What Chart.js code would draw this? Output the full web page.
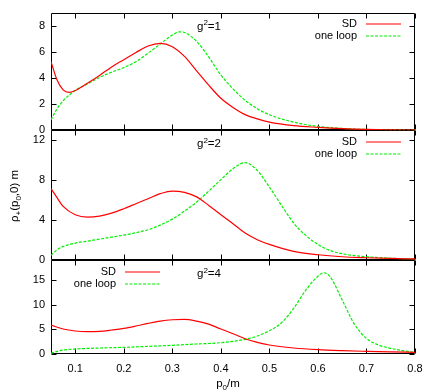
<!DOCTYPE html>
<html lang="en">
  <head>
    <meta charset="UTF-8" />
    <title>rho plus</title>
    <script src="https://cdn.jsdelivr.net/npm/chart.js"></script>
    <style>
      body { margin: 0; background: #fff; }
      canvas { display: block; }
    </style>
  </head>
  <body>
    <canvas id="grafico" width="436" height="391"></canvas>

    <script>
      // values, one panel per coupling g^2
      const couplings = [1, 2, 4];
      const xTicks = [0.1, 0.2, 0.3, 0.4, 0.5, 0.6, 0.7, 0.8];
      const yTicks1 = [0, 2, 4, 6, 8];
      const yTicks2 = [0, 4, 8, 12];
      const yTicks3 = [0, 5, 10, 15];
      const yMax = [9, 13, 19];

      const sdX1 = [0.05, 0.0625, 0.075, 0.0875, 0.1, 0.125, 0.15, 0.175, 0.2, 0.225, 0.25, 0.275, 0.3, 0.325, 0.35, 0.375, 0.4, 0.425, 0.45, 0.475, 0.5, 0.55, 0.6, 0.65, 0.7, 0.75, 0.8];
      const sdY1 = [5.25, 3.85, 3.09, 2.9, 3.05, 3.6, 4.2, 4.85, 5.4, 5.95, 6.45, 6.65, 6.39, 5.65, 4.55, 3.45, 2.45, 1.75, 1.2, 0.88, 0.63, 0.36, 0.23, 0.13, 0.07, 0.04, 0.02];
      const loopX1 = [0.05, 0.0625, 0.075, 0.1, 0.125, 0.15, 0.175, 0.2, 0.225, 0.25, 0.275, 0.3, 0.315, 0.325, 0.35, 0.375, 0.4, 0.425, 0.45, 0.475, 0.5, 0.55, 0.6, 0.65, 0.7, 0.75, 0.8];
      const loopY1 = [0.81, 1.65, 2.26, 3.05, 3.55, 4.05, 4.45, 4.8, 5.25, 5.9, 6.6, 7.28, 7.53, 7.48, 6.8, 5.6, 4.23, 3.17, 2.3, 1.65, 1.19, 0.63, 0.3, 0.15, 0.07, 0.04, 0.02];

      const sdX2 = [0.05, 0.0625, 0.075, 0.1, 0.125, 0.15, 0.175, 0.2, 0.225, 0.25, 0.275, 0.3, 0.325, 0.35, 0.375, 0.4, 0.425, 0.45, 0.475, 0.5, 0.55, 0.6, 0.65, 0.7, 0.75, 0.8];
      const sdY2 = [7.17, 6.27, 5.4, 4.57, 4.33, 4.43, 4.73, 5.17, 5.67, 6.17, 6.67, 6.93, 6.8, 6.35, 5.5, 4.57, 3.67, 2.73, 2.07, 1.6, 0.9, 0.57, 0.37, 0.27, 0.2, 0.15];
      const loopX2 = [0.05, 0.0625, 0.075, 0.1, 0.125, 0.15, 0.175, 0.2, 0.225, 0.25, 0.275, 0.3, 0.325, 0.35, 0.375, 0.4, 0.425, 0.45, 0.475, 0.5, 0.525, 0.55, 0.575, 0.6, 0.625, 0.65, 0.7, 0.75, 0.8];
      const loopY2 = [0.5, 1.07, 1.4, 1.73, 1.93, 2.13, 2.33, 2.53, 2.77, 3.07, 3.53, 4.13, 4.93, 5.83, 6.93, 8.07, 9.17, 9.77, 9.0, 7.33, 5.5, 3.73, 2.5, 1.6, 1.0, 0.67, 0.37, 0.22, 0.15];

      const sdX3 = [0.05, 0.075, 0.1, 0.125, 0.15, 0.175, 0.2, 0.225, 0.25, 0.275, 0.3, 0.325, 0.35, 0.375, 0.4, 0.425, 0.45, 0.475, 0.5, 0.55, 0.6, 0.65, 0.7, 0.75, 0.8];
      const sdY3 = [5.88, 5.07, 4.67, 4.53, 4.6, 4.87, 5.2, 5.68, 6.22, 6.69, 6.96, 7.03, 6.69, 6.08, 5.07, 4.12, 3.1, 2.37, 1.83, 1.22, 0.88, 0.68, 0.54, 0.42, 0.34];
      const loopX3 = [0.05, 0.0625, 0.075, 0.1, 0.15, 0.2, 0.25, 0.3, 0.35, 0.4, 0.45, 0.475, 0.5, 0.525, 0.55, 0.575, 0.6, 0.612, 0.625, 0.65, 0.675, 0.7, 0.725, 0.75, 0.775, 0.8];
      const loopY3 = [0.14, 0.54, 0.81, 1.01, 1.22, 1.35, 1.55, 1.76, 2.03, 2.3, 2.98, 3.65, 4.73, 6.35, 9.27, 12.98, 15.8, 16.5, 15.7, 10.95, 6.08, 3.18, 1.83, 1.15, 0.68, 0.34];

      const FONT = "'Liberation Sans', Arial, sans-serif";
      const RED = "#ff0000";
      const GREEN = "#00f000";

      function pontos(xs, ys) {
        return xs.map((x, i) => ({ x: x, y: ys[i] }));
      }

      function serie(label, xs, ys, eixo, cor, tracejado) {
        return {
          label: label,
          data: pontos(xs, ys),
          yAxisID: eixo,
          borderColor: cor,
          borderWidth: 1.2,
          borderDash: tracejado ? [3, 1.5] : [],
          pointRadius: 0,
          showLine: true,
          fill: false,
          cubicInterpolationMode: "monotone",
        };
      }

      const yIds = ["y1", "y2", "y3"];
      const yTicks = [yTicks1, yTicks2, yTicks3];
      const pesos = [118.3, 130.7, 94];
      // where the key sits in each panel (gnuplot puts the last one on the left)
      const legendaX = [357, 357, 116];

      function eixoY(i) {
        return {
          type: "linear",
          position: "left",
          stack: "paineis",
          stackWeight: pesos[i],
          weight: 3 - i,
          min: 0,
          max: yMax[i],
          afterBuildTicks: (s) => (s.ticks = yTicks[i].map((v) => ({ value: v }))),
          afterFit: (s) => (s.width = 51),
          grid: { display: false, drawTicks: false },
          border: { display: false },
          ticks: { padding: 6, color: "#000", font: { family: FONT, size: 11 } },
        };
      }

      // text with small raised / lowered pieces, e.g. [["g"], ["2", "sup"], ["=1"]]
      function textoRico(ctx, partes, x, y, tam) {
        let cx = x;
        partes.forEach((p) => {
          const pequeno = p[1] ? tam * 0.7 : tam;
          ctx.font = pequeno + "px " + FONT;
          const dy = p[1] === "sup" ? -tam * 0.4 : p[1] === "sub" ? tam * 0.3 : 0;
          ctx.fillText(p[0], cx, y + dy);
          cx += ctx.measureText(p[0]).width;
        });
        return cx - x;
      }

      function larguraRica(ctx, partes, tam) {
        let w = 0;
        partes.forEach((p) => {
          ctx.font = (p[1] ? tam * 0.7 : tam) + "px " + FONT;
          w += ctx.measureText(p[0]).width;
        });
        return w;
      }

      const pluginPaineis = {
        id: "paineis",
        beforeDatasetsDraw(chart) {
          const ctx = chart.ctx;
          const xs = chart.scales.x;
          const L = Math.round(chart.chartArea.left) + 0.5;
          const R = Math.round(chart.chartArea.right) - 0.5;
          ctx.save();
          ctx.strokeStyle = "#000";
          ctx.lineWidth = 1;
          yIds.forEach((id, i) => {
            const ys = chart.scales[id];
            const T = Math.round(ys.top) + 0.5;
            const B = Math.round(ys.bottom) - 0.5;
            ctx.beginPath();
            ctx.rect(L, T, R - L, B - T);
            xTicks.forEach((v) => {
              const px = Math.round(xs.getPixelForValue(v)) + 0.5;
              ctx.moveTo(px, B);
              ctx.lineTo(px, B - 5);
              ctx.moveTo(px, T);
              ctx.lineTo(px, T + 5);
            });
            yTicks[i].forEach((v) => {
              const py = Math.round(ys.getPixelForValue(v)) + 0.5;
              ctx.moveTo(L, py);
              ctx.lineTo(L + 5, py);
              ctx.moveTo(R, py);
              ctx.lineTo(R - 5, py);
            });
            ctx.stroke();
          });
          ctx.restore();
        },
        afterDraw(chart) {
          const ctx = chart.ctx;
          ctx.save();
          yIds.forEach((id, i) => {
            const T = chart.scales[id].top;
            // key: label right aligned, sample line to its right
            const sets = chart.data.datasets.filter((d) => d.yAxisID === id);
            sets.forEach((d, k) => {
              const y = Math.round(T + 11.3 + k * 12.3);
              ctx.fillStyle = "#000";
              ctx.font = "11px " + FONT;
              ctx.textAlign = "right";
              ctx.textBaseline = "middle";
              ctx.fillText(d.label, legendaX[i], y);
              ctx.save();
              ctx.beginPath();
              ctx.strokeStyle = d.borderColor;
              ctx.lineWidth = d.borderWidth;
              ctx.setLineDash(d.borderDash);
              ctx.moveTo(legendaX[i] + 9, y);
              ctx.lineTo(legendaX[i] + 44, y);
              ctx.stroke();
              ctx.restore();
            });
            // g^2 label
            ctx.fillStyle = "#000";
            ctx.textAlign = "left";
            ctx.textBaseline = "alphabetic";
            textoRico(ctx, [["g"], ["2", "sup"], ["=" + couplings[i]]], 197, T + 17, 11.5);
          });

          // axis titles
          ctx.fillStyle = "#000";
          ctx.textBaseline = "alphabetic";
          ctx.textAlign = "left";
          const tituloX = [["p"], ["0", "sub"], ["/m"]];
          const wx = larguraRica(ctx, tituloX, 11.5);
          textoRico(ctx, tituloX, 228 - wx / 2, 387, 11.5);

          const tituloY = [["\u03c1"], ["+", "sub"], ["(p"], ["0", "sub"], [",0) m"]];
          const wy = larguraRica(ctx, tituloY, 11.5);
          ctx.translate(18, 196);
          ctx.rotate(-Math.PI / 2);
          textoRico(ctx, tituloY, -wy / 2, 0, 11.5);
          ctx.restore();
        },
      };

      const ctx = document.getElementById("grafico").getContext("2d");
      new Chart(ctx, {
        type: "scatter",
        data: {
          datasets: [
            serie("SD", sdX1, sdY1, "y1", RED, false),
            serie("one loop", loopX1, loopY1, "y1", GREEN, true),
            serie("SD", sdX2, sdY2, "y2", RED, false),
            serie("one loop", loopX2, loopY2, "y2", GREEN, true),
            serie("SD", sdX3, sdY3, "y3", RED, false),
            serie("one loop", loopX3, loopY3, "y3", GREEN, true),
          ],
        },
        options: {
          responsive: false,
          animation: false,
          devicePixelRatio: 1,
          layout: { padding: { top: 11, right: 21, left: 0, bottom: 0 } },
          plugins: { legend: { display: false }, tooltip: { enabled: false } },
          scales: {
            x: {
              type: "linear",
              min: 0.05,
              max: 0.8,
              afterBuildTicks: (s) => (s.ticks = xTicks.map((v) => ({ value: v }))),
              afterFit: (s) => (s.height = 37),
              grid: { display: false, drawTicks: false },
              border: { display: false },
              ticks: {
                padding: 8,
                color: "#000",
                font: { family: FONT, size: 11 },
                callback: (v) => v.toFixed(1),
              },
            },
            y1: eixoY(0),
            y2: eixoY(1),
            y3: eixoY(2),
          },
        },
        plugins: [pluginPaineis],
      });
    </script>
  </body>
</html>
